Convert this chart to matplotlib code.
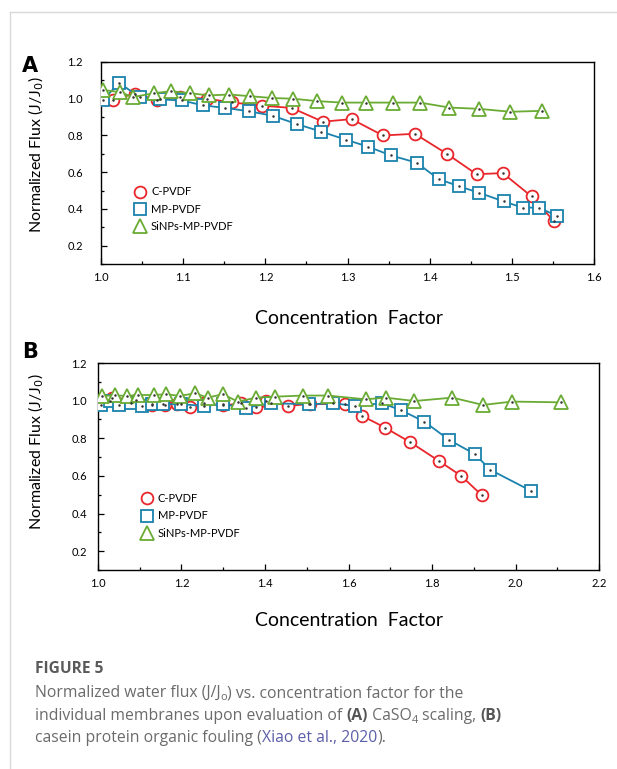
import matplotlib
matplotlib.use("Agg")
import matplotlib.pyplot as plt
from matplotlib.ticker import MultipleLocator

# ---------------- data ----------------
series_names = ["C-PVDF", "MP-PVDF", "SiNPs-MP-PVDF"]

# Panel A (CaSO4 scaling)
cf_A_c = [1.014, 1.041, 1.068, 1.096, 1.129, 1.159, 1.196, 1.232, 1.270, 1.305, 1.343, 1.382, 1.421, 1.457, 1.489, 1.524, 1.551]
fx_A_c = [0.995, 1.027, 0.995, 1.009, 1.000, 0.980, 0.962, 0.950, 0.875, 0.889, 0.800, 0.809, 0.700, 0.589, 0.595, 0.468, 0.334]
cf_A_m = [1.003, 1.022, 1.047, 1.072, 1.098, 1.124, 1.151, 1.180, 1.209, 1.239, 1.268, 1.298, 1.325, 1.353, 1.384, 1.411, 1.436, 1.460, 1.490, 1.513, 1.533, 1.555]
fx_A_m = [0.995, 1.086, 1.009, 0.996, 0.991, 0.964, 0.950, 0.932, 0.907, 0.861, 0.821, 0.777, 0.739, 0.691, 0.652, 0.562, 0.523, 0.488, 0.441, 0.407, 0.407, 0.361]
cf_A_s = [1.002, 1.023, 1.039, 1.064, 1.085, 1.108, 1.132, 1.156, 1.181, 1.208, 1.234, 1.263, 1.293, 1.323, 1.355, 1.388, 1.424, 1.460, 1.498, 1.537]
fx_A_s = [1.048, 1.036, 1.009, 1.030, 1.041, 1.030, 1.018, 1.023, 1.014, 1.004, 1.000, 0.987, 0.979, 0.979, 0.979, 0.979, 0.952, 0.945, 0.929, 0.934]

# Panel B (casein fouling)
cf_B_c = [1.034, 1.090, 1.130, 1.160, 1.190, 1.220, 1.255, 1.300, 1.343, 1.379, 1.403, 1.455, 1.507, 1.591, 1.633, 1.687, 1.748, 1.817, 1.870, 1.920]
fx_B_c = [1.015, 1.005, 0.975, 0.975, 0.980, 0.965, 0.985, 0.975, 0.985, 0.965, 1.000, 0.972, 0.982, 0.982, 0.919, 0.857, 0.779, 0.679, 0.600, 0.496]
cf_B_m = [1.007, 1.029, 1.050, 1.078, 1.106, 1.130, 1.155, 1.200, 1.253, 1.299, 1.354, 1.414, 1.506, 1.563, 1.616, 1.680, 1.725, 1.782, 1.841, 1.902, 1.940, 2.036]
fx_B_m = [0.977, 1.000, 0.977, 0.986, 0.973, 0.982, 0.981, 0.981, 0.972, 0.981, 0.963, 0.986, 0.981, 0.986, 0.972, 0.986, 0.950, 0.888, 0.791, 0.717, 0.632, 0.522]
cf_B_s = [1.009, 1.041, 1.069, 1.097, 1.133, 1.164, 1.196, 1.232, 1.263, 1.299, 1.335, 1.379, 1.423, 1.491, 1.551, 1.641, 1.689, 1.758, 1.849, 1.922, 1.992, 2.108]
fx_B_s = [1.025, 1.028, 1.025, 1.030, 1.030, 1.034, 1.025, 1.039, 1.016, 1.034, 0.995, 1.016, 1.021, 1.027, 1.027, 1.007, 1.016, 0.998, 1.016, 0.977, 0.995, 0.991]

yticks = [0.2, 0.4, 0.6, 0.8, 1.0, 1.2]
xticks_A = [1.0, 1.1, 1.2, 1.3, 1.4, 1.5, 1.6]
xticks_B = [1.0, 1.2, 1.4, 1.6, 1.8, 2.0, 2.2]

colors = ["#e8262b", "#1a82ad", "#6aab34"]
markers = ["o", "s", "^"]

FONT = "Lato"
CAP_FONT = "Open Sans"

W, H = 617, 769
fig = plt.figure(figsize=(W / 100, H / 100), dpi=100)

def px_rect(l, t, r, b):
    return [l / W, 1 - b / H, (r - l) / W, (b - t) / H]

def draw_panel(ax, data, xticks, xlim, ylabpad, legend_pos):
    handles = []
    for (x, y), c, m, name in zip(data, colors, markers, series_names):
        h, = ax.plot(x, y, color=c, lw=1.3, marker=m, ms=8.5 if m != "^" else 9.5,
                     mfc="white", mec=c, mew=1.3, label=name, zorder=3)
        ax.plot(x, y, ls="none", marker=".", ms=1.6, color="#333333", zorder=4)
        handles.append(h)
    ax.set_xlim(*xlim)
    ax.set_ylim(0.1, 1.2)
    ax.set_xticks(xticks)
    ax.set_xticklabels([f"{v:.1f}" for v in xticks], fontfamily=FONT, fontsize=8)
    ax.set_yticks(yticks)
    ax.set_yticklabels([f"{v:.1f}" for v in yticks], fontfamily=FONT, fontsize=8)
    ax.xaxis.set_minor_locator(MultipleLocator((xticks[1] - xticks[0]) / 2))
    ax.yaxis.set_minor_locator(MultipleLocator(0.1))
    ax.tick_params(which="both", direction="in", top=False, right=False, width=0.9)
    ax.tick_params(which="major", length=4)
    ax.tick_params(which="minor", length=2.5)
    ax.tick_params(axis="y", pad=ylabpad)
    ax.tick_params(axis="x", pad=6)
    for s in ax.spines.values():
        s.set_linewidth(1.0)
    leg = ax.legend(handles=handles, loc="lower left", bbox_to_anchor=legend_pos,
                    frameon=False, prop={"family": FONT, "size": 8},
                    handlelength=0, handletextpad=1.0, labelspacing=0.55,
                    borderaxespad=0, borderpad=0)
    for lh in leg.legend_handles:
        lh.set_linestyle("none")

axA = fig.add_axes(px_rect(101, 62, 594, 264))
draw_panel(axA, [(cf_A_c, fx_A_c), (cf_A_m, fx_A_m), (cf_A_s, fx_A_s)],
           xticks_A, (1.0, 1.6), 13, (0.079, 0.16))

axB = fig.add_axes(px_rect(98, 363, 599, 570))
draw_panel(axB, [(cf_B_c, fx_B_c), (cf_B_m, fx_B_m), (cf_B_s, fx_B_s)],
           xticks_B, (1.0, 2.2), 8, (0.097, 0.152))

# axis labels
fig.text(349 / W, 1 - 319 / H, "Concentration  Factor", ha="center", va="center",
         fontfamily=FONT, fontsize=14)
fig.text(349 / W, 1 - 620 / H, "Concentration  Factor", ha="center", va="center",
         fontfamily=FONT, fontsize=14)
fig.text(36 / W, 1 - 155 / H, "Normalized Flux (J/J$_0$)", rotation=90, ha="center",
         va="center", fontfamily=FONT, fontsize=11.5)
fig.text(36 / W, 1 - 452 / H, "Normalized Flux (J/J$_0$)", rotation=90, ha="center",
         va="center", fontfamily=FONT, fontsize=11.5)

# panel letters
fig.text(22 / W, 1 - 72 / H, "A", fontfamily="DejaVu Sans", fontweight="bold",
         fontsize=15, ha="left", va="baseline")
fig.text(22 / W, 1 - 358 / H, "B", fontfamily="DejaVu Sans", fontweight="bold",
         fontsize=15, ha="left", va="baseline")

# card border lines
fig.add_artist(plt.Line2D([10 / W, 10 / W], [0, 1 - 12 / H], color="#d9d9d9", lw=1.0))
fig.add_artist(plt.Line2D([10 / W, 1], [1 - 12 / H, 1 - 12 / H], color="#d9d9d9", lw=1.0))

# caption
fig.text(35 / W, 1 - 669 / H, "FIGURE 5", fontfamily=CAP_FONT, fontweight="bold",
         fontsize=11.2, color="#5a5a5a", ha="left", va="center")

renderer = fig.canvas.get_renderer()
SIZE = 11.3
GREY = "#6b6b6b"

def text_width(txt, **kw):
    # measure with sentinel characters so spaces are counted
    t = fig.text(0, 0, "|" + txt + "|", **kw)
    w = t.get_window_extent(renderer=renderer).width
    t.remove()
    t2 = fig.text(0, 0, "||", **kw)
    w2 = t2.get_window_extent(renderer=renderer).width
    t2.remove()
    return w - w2

def draw_runs(x0, ybase, runs):
    x = x0
    for txt, kw in runs:
        props = dict(fontfamily=CAP_FONT, fontsize=SIZE, color=GREY)
        dy = 0
        if kw.get("sub"):
            props["fontsize"] = SIZE * 0.7
            dy = 3
        for k, v in kw.items():
            if k != "sub":
                props[k] = v
        fig.text(x / W, 1 - (ybase + dy) / H, txt, ha="left", va="baseline", **props)
        x += text_width(txt, **props)

draw_runs(35, 697, [("Normalized water flux (J/J", {}), ("o", {"sub": True}),
                    (") vs. concentration factor for the", {})])
draw_runs(35, 720, [("individual membranes upon evaluation of ", {}),
                    ("(A)", {"fontweight": "bold", "color": "#555555"}),
                    (" CaSO", {}), ("4", {"sub": True}), (" scaling, ", {}),
                    ("(B)", {"fontweight": "bold", "color": "#555555"})])
draw_runs(35, 742, [("casein protein organic fouling (", {}),
                    ("Xiao et al., 2020", {"color": "#5b5fa8"}),
                    (").", {})])

fig.savefig("out.png", dpi=100)
